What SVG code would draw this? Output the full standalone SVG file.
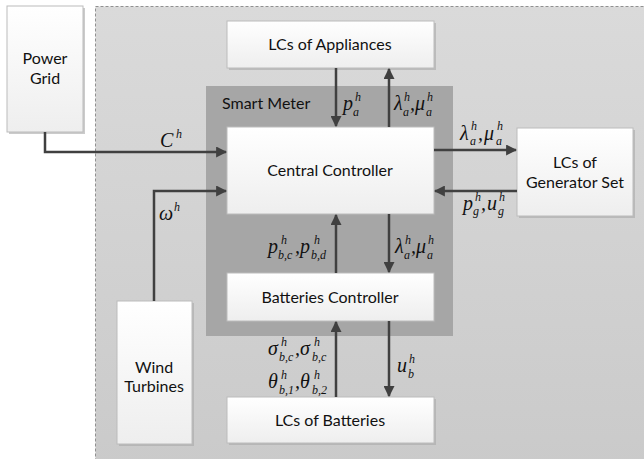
<svg xmlns="http://www.w3.org/2000/svg" width="644" height="459" viewBox="0 0 644 459">
<defs>
<linearGradient id="bg" x1="0" y1="0" x2="0" y2="1">
<stop offset="0" stop-color="#dadada"/><stop offset="1" stop-color="#cacaca"/>
</linearGradient>
<linearGradient id="nodefill" x1="0" y1="0" x2="0" y2="1">
<stop offset="0" stop-color="#ffffff"/><stop offset="1" stop-color="#eeeeee"/>
</linearGradient>
<marker id="ah" viewBox="0 0 10 10" refX="9" refY="5" markerWidth="4.4" markerHeight="4.4" orient="auto" markerUnits="strokeWidth">
<path d="M0,0 L10,5 L0,10 Z" fill="#404040"/>
</marker>
</defs>
<style>
.node rect.box{fill:url(#nodefill);stroke:#bcbcbc;stroke-width:1}
.node rect.sh{fill:#a8a8a8;opacity:0.6}
.lbl{font-family:"Lato","Liberation Sans",sans-serif;font-size:16px;fill:#111;text-anchor:middle}
.conn path{fill:none;stroke:#404040;stroke-width:2.5;marker-end:url(#ah)}
.m{font-family:"Liberation Serif",serif;font-style:italic;font-size:20px;fill:#111}
.s{font-size:12px}
</style>
<rect width="644" height="459" fill="#ffffff"/>
<rect id="system" x="95.5" y="6.5" width="560" height="460" fill="url(#bg)" stroke="#909090" stroke-width="1" stroke-dasharray="3,2"/>
<g id="smart-meter">
<rect x="206" y="86" width="247" height="250" fill="#a6a6a6"/>
<text x="222" y="109" font-family="Lato,'Liberation Sans',sans-serif" font-size="16" fill="#111">Smart Meter</text>
</g>
<g id="power-grid" class="node">
<rect class="sh" x="9" y="8" width="76" height="126"/>
<rect class="box" x="7" y="6" width="76" height="126"/>
<text class="lbl" x="45" y="64">Power</text><text class="lbl" x="45" y="84">Grid</text>
</g>
<g id="lcs-appliances" class="node">
<rect class="sh" x="229" y="23" width="207" height="47"/>
<rect class="box" x="227" y="21" width="207" height="47"/>
<text class="lbl" x="330" y="50">LCs of Appliances</text>
</g>
<g id="central-controller" class="node">
<rect class="sh" x="229" y="129" width="207" height="87"/>
<rect class="box" x="227" y="127" width="207" height="87" stroke="none"/>
<text class="lbl" x="330" y="176">Central Controller</text>
</g>
<g id="lcs-generator" class="node">
<rect class="sh" x="519" y="130" width="116" height="88"/>
<rect class="box" x="517" y="128" width="116" height="88"/>
<text class="lbl" x="575" y="168">LCs of</text><text class="lbl" x="575" y="188">Generator Set</text>
</g>
<g id="batteries-controller" class="node">
<rect class="sh" x="229" y="275" width="207" height="48"/>
<rect class="box" x="227" y="273" width="207" height="48" stroke="none"/>
<text class="lbl" x="330" y="303">Batteries Controller</text>
</g>
<g id="wind-turbines" class="node">
<rect class="sh" x="119" y="303" width="75" height="143"/>
<rect class="box" x="117" y="301" width="75" height="143"/>
<text class="lbl" x="154" y="373">Wind</text><text class="lbl" x="154" y="392">Turbines</text>
</g>
<g id="lcs-batteries" class="node">
<rect class="sh" x="229" y="399" width="207" height="46"/>
<rect class="box" x="227" y="397" width="207" height="46"/>
<text class="lbl" x="330" y="426">LCs of Batteries</text>
</g>
<g id="connectors" class="conn">
<path d="M45,132 V152 H226"/>
<path d="M154,301 V191 H226"/>
<path d="M336,68 V126"/>
<path d="M389,127 V69"/>
<path d="M434,150 H516"/>
<path d="M517,191 H435"/>
<path d="M336,273 V215"/>
<path d="M389,214 V272"/>
<path d="M336,397 V322"/>
<path d="M389,321 V396"/>
</g>
<g id="labels">
<text class="m"><tspan x="160" y="147">C</tspan><tspan class="s" x="176" y="138">h</tspan></text>
<text class="m"><tspan x="159" y="220">ω</tspan><tspan class="s" x="174" y="211">h</tspan></text>
<text class="m"><tspan x="343" y="110">p</tspan><tspan class="s" x="355" y="101">h</tspan><tspan class="s" x="353" y="116">a</tspan></text>
<text class="m"><tspan x="394" y="110">λ</tspan><tspan class="s" x="404" y="101">h</tspan><tspan class="s" x="403" y="116">a</tspan><tspan x="410" y="110">,</tspan><tspan x="415" y="110">μ</tspan><tspan class="s" x="427" y="101">h</tspan><tspan class="s" x="426" y="116">a</tspan></text>
<text class="m"><tspan x="460" y="140">λ</tspan><tspan class="s" x="471" y="130">h</tspan><tspan class="s" x="470" y="145">a</tspan><tspan x="478" y="140">,</tspan><tspan x="484" y="140">μ</tspan><tspan class="s" x="497" y="130">h</tspan><tspan class="s" x="496" y="145">a</tspan></text>
<text class="m"><tspan x="463" y="210">p</tspan><tspan class="s" x="475" y="201">h</tspan><tspan class="s" x="473" y="215">g</tspan><tspan x="481" y="210">,</tspan><tspan x="487" y="210">u</tspan><tspan class="s" x="499" y="201">h</tspan><tspan class="s" x="498" y="215">g</tspan></text>
<text class="m"><tspan x="268" y="253">p</tspan><tspan class="s" x="281" y="244">h</tspan><tspan class="s" x="278" y="259">b,c</tspan><tspan x="295" y="253">,</tspan><tspan x="300" y="253">p</tspan><tspan class="s" x="314" y="244">h</tspan><tspan class="s" x="311" y="259">b,d</tspan></text>
<text class="m"><tspan x="395" y="253">λ</tspan><tspan class="s" x="405" y="244">h</tspan><tspan class="s" x="404" y="259">a</tspan><tspan x="411" y="253">,</tspan><tspan x="416" y="253">μ</tspan><tspan class="s" x="428" y="244">h</tspan><tspan class="s" x="427" y="259">a</tspan></text>
<text class="m"><tspan x="268" y="355">σ</tspan><tspan class="s" x="281" y="346">h</tspan><tspan class="s" x="279" y="361">b,c</tspan><tspan x="295" y="355">,</tspan><tspan x="300" y="355">σ</tspan><tspan class="s" x="314" y="346">h</tspan><tspan class="s" x="312" y="361">b,c</tspan></text>
<text class="m"><tspan x="268" y="388">θ</tspan><tspan class="s" x="281" y="379">h</tspan><tspan class="s" x="279" y="394">b,1</tspan><tspan x="295" y="388">,</tspan><tspan x="300" y="388">θ</tspan><tspan class="s" x="314" y="379">h</tspan><tspan class="s" x="312" y="394">b,2</tspan></text>
<text class="m"><tspan x="397" y="372">u</tspan><tspan class="s" x="409" y="363">h</tspan><tspan class="s" x="408" y="378">b</tspan></text>
</g>
</svg>
